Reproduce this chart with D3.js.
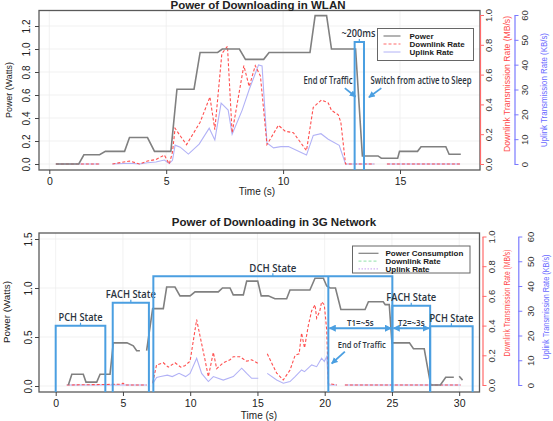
<!DOCTYPE html>
<html>
<head>
<meta charset="utf-8">
<script src="https://cdn.jsdelivr.net/npm/d3@7"></script>
<style>
  body { margin: 0; background: #fff; }
  svg { display: block; font-family: "Liberation Sans", Arial, Helvetica, sans-serif; }
  .note { font-family: "Open Sans", "Liberation Sans", sans-serif; font-weight: 600; fill: #2b3440; }
</style>
</head>
<body>
<svg id="chart" width="553" height="421"></svg>
<script>
// ---- WLAN panel data: [time (s), value], null = gap in the trace
const wlanPower = [[0.28,0],[1.26,0],[1.48,0.08],[2.15,0.08],[2.4,0.11],[3.22,0.11],[3.43,0.23],[4.2,0.23],
  [4.5,0.11],[5.2,0.11],[5.46,0.65],[6.19,0.65],[6.45,0.97],[7.2,0.97],[7.4,1.0],[8.13,1.0],[8.39,0.91],
  [9.17,0.91],[9.4,0.97],[11.15,0.97],[11.37,1.29],[11.86,1.29],[12.07,1.0],[13.1,1.0],[13.39,0.07],
  [14.06,0.07],[14.2,0.05],[14.9,0.05],[14.98,0.11],[15.75,0.11],[15.9,0.15],[16.96,0.15],[17.1,0.085],[17.6,0.085]];
const wlanDown = [[0.28,0],[2.15,0],null,[2.7,0],[3.43,0.02],[3.86,0],[4.2,0.02],[4.56,0.03],[4.92,0.06],
  [5.13,0],[5.27,0.08],[5.38,0.24],[5.55,0.2],[5.87,0.13],[6.45,0.28],[6.87,0.45],[7.08,0.23],[7.38,0.74],
  [7.62,0.79],[7.82,0.21],[8.32,0.66],[8.55,0.52],[8.81,0.66],[9.03,0.59],[9.31,0.13],[9.8,0.26],[10.09,0.22],
  [10.44,0.21],[11.0,0.09],[11.29,0.38],[11.64,0.43],[11.93,0.41],[12.07,0.36],[12.36,0.33],[12.47,0.28],
  [12.67,0],[13.9,0],null,[14.44,0],[17.57,0]];
const wlanUp = [[0.28,0],[2.15,0],null,[2.7,0],[3.43,0.3],[3.86,0],[4.2,0.5],[4.56,0.8],[4.92,1.6],[5.13,0.2],
  [5.27,1.5],[5.38,7.6],[5.6,6.8],[5.95,4],[6.41,8],[6.84,14.4],[7.08,9.7],[7.35,24.5],[7.65,21.7],[7.82,12],
  [8.25,21.7],[8.55,30],[8.95,39.9],[9.1,39.5],[9.31,8.5],[9.59,6.5],[9.9,7],[10.23,7],[11.0,3.6],[11.29,11.5],
  [11.62,12.2],[11.93,10],[12.4,7.5],[12.67,0],[13.9,0],null,[14.44,0],[17.57,0]];
const wlanXTicks = [0, 5, 10, 15];
const wlanYTicks = [0, 0.2, 0.4, 0.6, 0.8, 1.0, 1.2];
const wlanLegend = ["Power", "Downlink Rate", "Uplink Rate"];

// ---- 3G panel data
const g3Power = [[0.94,0.01],[1.2,0.12],[2.05,0.12],[2.25,0.04],[3.05,0.04],[3.3,0.12],[4.04,0.12],[4.28,0.44],
  [5.3,0.44],[5.77,0.41],[6.02,0.36],[6.26,0.36],null,[6.76,0.36],[7.21,0.79],[8.0,0.79],[8.25,1.01],[8.87,1.01],
  [9.24,0.92],[9.99,0.92],[10.36,0.96],[12.09,0.96],[12.4,1.0],[12.96,1.0],[13.2,0.93],[13.95,0.93],[14.2,1.07],
  [15.02,1.07],[15.28,0.92],[15.8,0.92],[16.3,0.89],[17.17,0.89],[17.42,0.98],[18.9,0.98],[19.28,1.1],[19.9,1.1],
  [20.15,1.02],[20.4,1.0],[20.8,1.0],[21.2,0.78],[23.0,0.78],[23.25,0.86],[24.35,0.86],[24.5,0.83],[24.8,0.83],
  [25.0,0.44],[26.3,0.44],[26.6,0.38],[27.4,0.38],[27.88,0.01],[28.6,0.01],[29.0,0.09],[29.6,0.09],null,[30.0,0.1],[30.25,0.06]];
const g3Down = [[0.82,0],[4.9,0.005],[5.0,0.012],[5.2,0],[6.76,0],null,[7.21,0.015],[7.5,0.135],[8.0,0.15],
  [8.37,0.12],[8.87,0.15],[9.3,0.12],[9.6,0.13],[9.99,0.16],[10.48,0.44],[10.73,0.33],[11.1,0.17],[11.35,0.056],
  [11.72,0.22],[11.97,0.11],[12.46,0.15],[12.96,0.17],[13.2,0.19],[13.7,0.19],[14.2,0.16],[14.57,0.17],[15.06,0.145],
  null,[15.73,0.21],[16.1,0.14],[16.43,0.08],[16.92,0.034],[17.42,0.1],[17.8,0.2],[18.1,0.21],[18.28,0.35],[18.5,0.25],
  [18.78,0.4],[19.03,0.5],[19.28,0.54],[19.4,0.45],[19.64,0.5],[19.77,0.56],[19.97,0.54],[20.15,0.37],[20.27,0.01],
  [20.9,0],null,[21.5,0],[30.1,0]];
const g3Up = [[0.82,0],[6.76,0],null,[7.21,0.5],[7.5,3],[7.8,3.4],[8.3,4],[8.67,3.4],[9.17,4.7],[9.66,3.4],[9.99,4.7],
  [10.48,10.8],[10.85,4.7],[11.35,1.4],[11.72,3.4],[12.46,2],[13.2,3.4],[13.83,6.8],[14.2,4.7],[14.57,2.7],[15.06,2.7],
  null,[15.73,4.7],[16.43,2],[16.92,0.7],[17.42,1.4],[17.8,3.4],[18.28,6.1],[18.5,5.4],[19.03,8.1],[19.4,7.4],
  [19.77,10.8],[19.97,9.5],[20.15,11.5],[20.27,0],[20.9,0],null,[21.5,0],[30.1,0]];
const g3XTicks = [0, 5, 10, 15, 20, 25, 30];
const g3YTicks = [0, 0.5, 1.0, 1.5];
const g3Legend = ["Power Consumption", "Downlink Rate", "Uplink Rate"];
// RRC states: label, start, end, box top (Watts)
const g3States = [
  ["PCH State", 0, 3.69, 0.615],
  ["FACH State", 4.24, 6.93, 0.85],
  ["DCH State", 7.26, 25.03, 1.12],
  ["FACH State", 25.03, 27.84, 0.82],
  ["PCH State", 27.84, 31.0, 0.61]
];

const rateTicks = [0, 0.2, 0.4, 0.6, 0.8, 1.0];
const upTicks = [0, 10, 20, 30, 40, 50, 60];

const BLUE = "#4b9fe1";
const svg = d3.select("#chart");
const defs = svg.append("defs");
defs.append("marker").attr("id", "arr")
  .attr("viewBox", "0 0 10 10").attr("refX", 9).attr("refY", 5)
  .attr("markerWidth", 3.6).attr("markerHeight", 3.6)
  .attr("orient", "auto-start-reverse")
  .append("path").attr("d", "M0,0L10,5L0,10z").attr("fill", BLUE);

const fmt1 = d3.format(".1f");

// narrow annotation text (Calibri-like width forced with textLength)
function note(g, x, y, txt, size, width) {
  return g.append("text").attr("class", "note").attr("x", x).attr("y", y)
    .attr("text-anchor", "middle").attr("font-size", size)
    .attr("textLength", width).attr("lengthAdjust", "spacingAndGlyphs").text(txt);
}

function drawPanel(p) {
  const { box, x, y, yr, yb } = p;
  const g = svg.append("g");

  defs.append("clipPath").attr("id", "clip" + p.id)
    .append("rect").attr("x", box.x0).attr("y", box.y0)
    .attr("width", box.x1 - box.x0).attr("height", box.y1 - box.y0);

  // faint grid
  g.append("g").selectAll("line").data(p.xTicks).join("line")
    .attr("x1", d => x(d)).attr("x2", d => x(d)).attr("y1", box.y0).attr("y2", box.y1)
    .attr("stroke", "#ededed").attr("stroke-width", 0.8);
  g.append("g").selectAll("line").data(p.yTicks).join("line")
    .attr("x1", box.x0).attr("x2", box.x1).attr("y1", d => y(d)).attr("y2", d => y(d))
    .attr("stroke", "#ededed").attr("stroke-width", 0.8);

  const plot = g.append("g").attr("clip-path", `url(#clip${p.id})`);
  const line = sc => d3.line().defined(d => d).x(d => x(d[0])).y(d => sc(d[1]));
  plot.append("path").datum(p.up).attr("d", line(yb))
    .attr("fill", "none").attr("stroke", "#b2b2f6").attr("stroke-width", 1.1);
  plot.append("path").datum(p.down).attr("d", line(yr))
    .attr("fill", "none").attr("stroke", "#ff4f4f").attr("stroke-width", 1.1)
    .attr("stroke-dasharray", "3,2");
  plot.append("path").datum(p.power).attr("d", line(y))
    .attr("fill", "none").attr("stroke", "#808080").attr("stroke-width", 1.6);

  g.append("rect").attr("x", box.x0).attr("y", box.y0)
    .attr("width", box.x1 - box.x0).attr("height", box.y1 - box.y0)
    .attr("fill", "none").attr("stroke", "#5a5a5a").attr("stroke-width", 1.3);

  // bottom axis
  const ax = g.append("g").attr("transform", `translate(0,${box.y1})`)
    .call(d3.axisBottom(x).tickValues(p.xTicks).tickSize(4).tickSizeOuter(0));
  ax.select(".domain").remove();
  ax.selectAll("line").attr("stroke", "#444");
  ax.selectAll("text").attr("font-size", 10.5).attr("fill", "#222").attr("y", 8);

  // left axis, labels rotated
  const ay = g.append("g").attr("transform", `translate(${box.x0},0)`)
    .call(d3.axisLeft(y).tickValues(p.yTicks).tickFormat(fmt1).tickSize(4).tickSizeOuter(0));
  ay.select(".domain").remove();
  ay.selectAll("line").attr("stroke", "#444");
  ay.selectAll("text").attr("x", 0).attr("y", 0).attr("dy", "0.35em")
    .attr("text-anchor", "middle").attr("font-size", 10).attr("fill", "#222")
    .attr("transform", `translate(${p.leftLab},0) rotate(-90)`);

  // right axes
  const ar = g.append("g").attr("transform", `translate(${p.redX},0)`)
    .call(d3.axisRight(yr).tickValues(rateTicks).tickFormat(fmt1).tickSize(4).tickSizeOuter(0));
  ar.select(".domain").attr("stroke", "#ff6a6a").attr("stroke-width", 1.2);
  ar.selectAll("line").attr("stroke", "#ff6a6a");
  ar.selectAll("text").attr("x", 0).attr("y", 0).attr("dy", "0.35em")
    .attr("text-anchor", "middle").attr("font-size", 9.5).attr("fill", "#333")
    .attr("transform", `translate(${p.redLab},0) rotate(-90)`);

  const ab = g.append("g").attr("transform", `translate(${p.blueX},0)`)
    .call(d3.axisRight(yb).tickValues(upTicks).tickSize(4).tickSizeOuter(0));
  ab.select(".domain").attr("stroke", "#7a7aff").attr("stroke-width", 1.2);
  ab.selectAll("line").attr("stroke", "#7a7aff");
  ab.selectAll("text").attr("x", 0).attr("y", 0).attr("dy", "0.35em")
    .attr("text-anchor", "middle").attr("font-size", 9.5).attr("fill", "#333")
    .attr("transform", `translate(${p.blueLab},0) rotate(-90)`);

  // titles
  g.append("text").attr("x", p.title[1]).attr("y", p.title[2]).attr("text-anchor", "middle")
    .attr("font-size", 11.5).attr("font-weight", "bold").attr("fill", "#222").text(p.title[0]);
  g.append("text").attr("x", p.xLabel[0]).attr("y", p.xLabel[1]).attr("text-anchor", "middle")
    .attr("font-size", 10).attr("fill", "#222").text("Time (s)");
  const vtitle = (cx, cy, txt, len, col, fs) => g.append("text")
    .attr("transform", `translate(${cx},${cy}) rotate(-90)`).attr("dy", "0.35em")
    .attr("text-anchor", "middle").attr("font-size", fs).attr("fill", col)
    .attr("textLength", len).attr("lengthAdjust", "spacingAndGlyphs").text(txt);
  vtitle(p.yTitle[0], p.yTitle[1], "Power (Watts)", p.yTitle[2], "#222", 9.5);
  vtitle(p.redTitle[0], p.redTitle[1], "Downlink Transmission Rate (MB/s)", p.redTitle[2], "#ff4a4a", 9);
  vtitle(p.blueTitle[0], p.blueTitle[1], "Uplink Transmission Rate (KB/s)", p.blueTitle[2], "#6a6aff", 9);

  // legend
  const L = p.legend;
  const lg = g.append("g");
  lg.append("rect").attr("x", L.x).attr("y", L.y).attr("width", L.w).attr("height", L.h)
    .attr("fill", "#fff").attr("stroke", "#666").attr("stroke-width", 1);
  const styles = L.styles;
  p.legendNames.forEach((name, i) => {
    const yy = L.y + L.first + i * L.step;
    lg.append("line").attr("x1", L.x + L.l0).attr("x2", L.x + L.l1).attr("y1", yy).attr("y2", yy)
      .attr("stroke", styles[i][0]).attr("stroke-width", styles[i][2]).attr("stroke-dasharray", styles[i][1]);
    lg.append("text").attr("x", L.x + L.tx).attr("y", yy).attr("dy", "0.35em")
      .attr("font-size", 8).attr("font-weight", "bold").attr("fill", "#1a1a1a").text(name);
  });
  return g;
}

// ---------- WLAN panel
const wx = d3.scaleLinear().domain([0, 15]).range([49.3, 400]);
const wy = d3.scaleLinear().domain([0, 1.2]).range([164, 26]);
const wyr = d3.scaleLinear().domain([0, 1]).range([164, 15]);
const wyb = d3.scaleLinear().domain([0, 60]).range([164, 15]);
const wg = drawPanel({
  id: "w", box: { x0: 39, x1: 480, y0: 10.5, y1: 170 },
  x: wx, y: wy, yr: wyr, yb: wyb,
  power: wlanPower, down: wlanDown, up: wlanUp,
  xTicks: wlanXTicks, yTicks: wlanYTicks,
  leftLab: -12.5, redX: 480, redLab: 8.5, blueX: 514.5, blueLab: 10.5,
  title: ["Power of Downloading in WLAN", 258, 8.5],
  xLabel: [257, 195],
  yTitle: [8.5, 90, 56], redTitle: [507, 84, 136], blueTitle: [544, 90, 114],
  legendNames: wlanLegend,
  legend: { x: 377.5, y: 28.5, w: 96, h: 32, first: 7.5, step: 8, l0: 6, l1: 23, tx: 32,
    styles: [["#808080", null, 1.2], ["#ff6b6b", "3,2", 1], ["#b2b2f6", null, 1]] }
});

// ~200ms window between end of traffic and sleep
const win = [13.06, 13.46, 1.06];
wg.append("path")
  .attr("d", `M${wx(win[0])},170 V${wy(win[2])} H${wx(win[1])} V170`)
  .attr("fill", "none").attr("stroke", BLUE).attr("stroke-width", 2);
wg.append("line").attr("x1", wx((win[0] + win[1]) / 2)).attr("x2", wx((win[0] + win[1]) / 2))
  .attr("y1", wy(win[2])).attr("y2", wy(win[2]) - 3).attr("stroke", BLUE).attr("stroke-width", 1.2);
note(wg, wx(13.22), wy(1.14) + 4, "~200ms", 11, 34);
note(wg, wx(11.92), wy(0.73) + 3.5, "End of Traffic", 10, 49);
note(wg, wx(15.9), wy(0.73) + 3.5, "Switch from active to Sleep", 10, 101);
[[12.64, 0.66, 13.1, 0.585], [14.2, 0.66, 13.67, 0.58]].forEach(a => {
  wg.append("line").attr("x1", wx(a[0])).attr("y1", wy(a[1])).attr("x2", wx(a[2])).attr("y2", wy(a[3]))
    .attr("stroke", BLUE).attr("stroke-width", 1.8).attr("marker-end", "url(#arr)");
});

// ---------- 3G panel
const gx = d3.scaleLinear().domain([0, 30]).range([55.7, 459.2]);
const gy = d3.scaleLinear().domain([0, 1.5]).range([386, 239]);
const gyr = d3.scaleLinear().domain([0, 1]).range([385, 236.5]);
const gyb = d3.scaleLinear().domain([0, 60]).range([385, 236.5]);
const gg = drawPanel({
  id: "g", box: { x0: 39, x1: 479.5, y0: 233, y1: 392 },
  x: gx, y: gy, yr: gyr, yb: gyb,
  power: g3Power, down: g3Down, up: g3Up,
  xTicks: g3XTicks, yTicks: g3YTicks,
  leftLab: -11, redX: 482.5, redLab: 9, blueX: 518.3, blueLab: 12,
  title: ["Power of Downloading in 3G Network", 274, 226],
  xLabel: [259, 419],
  yTitle: [7, 312, 62], redTitle: [507, 303, 107], blueTitle: [546, 307, 105],
  legendNames: g3Legend,
  legend: { x: 352.5, y: 246, w: 117.5, h: 27, first: 7.3, step: 7.8, l0: 6, l1: 26, tx: 33,
    styles: [["#808080", null, 1.2], ["#8fe0a8", "3,2", 1], ["#c7a0f0", "1.5,1.5", 1]] }
});

const labelWidth = { "PCH State": 44, "FACH State": 50, "DCH State": 47 };
const sg = gg.append("g");
g3States.forEach(s => {
  sg.append("path")
    .attr("d", `M${gx(s[1])},392 V${gy(s[3])} H${gx(s[2])} V392`)
    .attr("fill", "none").attr("stroke", BLUE).attr("stroke-width", 2);
  const mid = gx((s[1] + s[2]) / 2);
  sg.append("line").attr("x1", mid).attr("x2", mid).attr("y1", gy(s[3])).attr("y2", gy(s[3]) - 3)
    .attr("stroke", BLUE).attr("stroke-width", 1.2);
  note(sg, mid, gy(s[3]) - 4.5, s[0], 11, labelWidth[s[0]]);
});
// end of traffic divider inside DCH
const endT = 20.27;
sg.append("line").attr("x1", gx(endT)).attr("x2", gx(endT)).attr("y1", gy(1.12)).attr("y2", 392)
  .attr("stroke", BLUE).attr("stroke-width", 2);
// T1 / T2 timers
[[endT, 25.03, "T1=~5s"], [25.03, 27.84, "T2=~3s"]].forEach(t => {
  sg.append("line").attr("x1", gx(t[0]) + 1).attr("x2", gx(t[1]) - 1).attr("y1", gy(0.59)).attr("y2", gy(0.59))
    .attr("stroke", BLUE).attr("stroke-width", 2)
    .attr("marker-start", "url(#arr)").attr("marker-end", "url(#arr)");
  note(sg, gx((t[0] + t[1]) / 2), gy(0.65) + 3.3, t[2], 9.5, 26.5);
});
note(sg, gx(22.75), gy(0.42) + 3.3, "End of Traffic", 9.5, 48);
sg.append("line").attr("x1", gx(21.5)).attr("y1", gy(0.35)).attr("x2", gx(20.52)).attr("y2", gy(0.23))
  .attr("stroke", BLUE).attr("stroke-width", 1.8).attr("marker-end", "url(#arr)");
</script>
</body>
</html>
